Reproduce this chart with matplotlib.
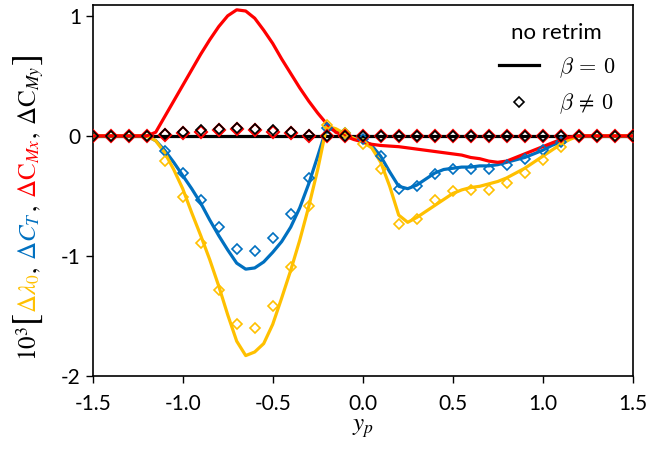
import numpy as np
import matplotlib
matplotlib.use("Agg")
import matplotlib.pyplot as plt
from matplotlib.lines import Line2D

plt.rcParams['font.family'] = ['Lato', 'DejaVu Sans']
plt.rcParams['axes.unicode_minus'] = False

# line data (beta = 0), sampled every 0.05 between -1.2 and 1.2
x_line = [-1.5, -1.2, -1.15, -1.1, -1.05, -1.0, -0.95, -0.9, -0.85, -0.8, -0.75,
          -0.7, -0.65, -0.6, -0.55, -0.5, -0.45, -0.4, -0.35, -0.3, -0.25,
          -0.2, -0.15, -0.1, -0.05, 0.0, 0.05, 0.1, 0.15, 0.2, 0.25, 0.3,
          0.35, 0.4, 0.45, 0.5, 0.55, 0.6, 0.65, 0.7, 0.75, 0.8, 0.85, 0.9,
          0.95, 1.0, 1.05, 1.1, 1.15, 1.2, 1.5]
lam0_line = [0, 0, -0.04, -0.14, -0.28, -0.44, -0.64, -0.83, -1.03, -1.25, -1.49,
             -1.71, -1.83, -1.80, -1.73, -1.57, -1.35, -1.12, -0.87, -0.59, -0.28,
             0.08, 0.06, 0.02, -0.02, -0.05, -0.10, -0.22, -0.42, -0.66, -0.72, -0.68,
             -0.63, -0.58, -0.53, -0.48, -0.45, -0.43, -0.42, -0.40, -0.38, -0.35, -0.31, -0.27,
             -0.22, -0.17, -0.12, -0.07, -0.03, 0, 0]
ct_line = [0, 0, -0.04, -0.12, -0.22, -0.33, -0.44, -0.56, -0.70, -0.83, -0.95,
           -1.06, -1.11, -1.10, -1.05, -0.97, -0.88, -0.76, -0.60, -0.40, -0.17,
           0.07, 0.04, 0.01, -0.02, -0.03, -0.08, -0.17, -0.30, -0.42, -0.44, -0.41,
           -0.36, -0.31, -0.28, -0.27, -0.26, -0.26, -0.25, -0.25, -0.24, -0.22, -0.20, -0.18,
           -0.15, -0.12, -0.08, -0.05, -0.02, 0, 0]
cmx_line = [0, 0, 0.03, 0.16, 0.29, 0.42, 0.55, 0.68, 0.80, 0.91, 1.00,
            1.05, 1.04, 0.98, 0.88, 0.77, 0.64, 0.52, 0.40, 0.29, 0.19,
            0.10, 0.03, 0.0, -0.03, -0.05, -0.07, -0.08, -0.085, -0.09, -0.10, -0.11,
            -0.12, -0.13, -0.14, -0.15, -0.16, -0.18, -0.19, -0.21, -0.22, -0.21, -0.18, -0.15,
            -0.12, -0.09, -0.06, -0.03, -0.01, 0, 0]
cmy_line = [0] * len(x_line)

# marker data (beta != 0), every 0.1
x_pts = [-1.5, -1.4, -1.3, -1.2, -1.1, -1.0, -0.9, -0.8, -0.7, -0.6, -0.5,
         -0.4, -0.3, -0.2, -0.1, 0.0, 0.1, 0.2, 0.3, 0.4, 0.5,
         0.6, 0.7, 0.8, 0.9, 1.0, 1.1, 1.2, 1.3, 1.4, 1.5]
lam0_pts = [0, 0, 0, 0, -0.21, -0.51, -0.89, -1.28, -1.57, -1.60, -1.42,
            -1.09, -0.58, 0.09, 0.02, -0.07, -0.28, -0.73, -0.69, -0.53, -0.46,
            -0.45, -0.45, -0.39, -0.31, -0.20, -0.09, 0, 0, 0, 0]
ct_pts = [0, 0, 0, 0, -0.13, -0.31, -0.53, -0.76, -0.94, -0.96, -0.85,
          -0.65, -0.35, 0.065, 0.02, -0.03, -0.17, -0.44, -0.42, -0.32, -0.28,
          -0.28, -0.28, -0.24, -0.19, -0.12, -0.05, 0, 0, 0, 0]
cmx_pts = [0, 0, 0, 0, 0.01, 0.02, 0.035, 0.045, 0.055, 0.05, 0.035,
           0.02, 0.0, -0.005, -0.005, -0.005, -0.005, -0.005, -0.005, -0.005, -0.005,
           -0.005, -0.005, -0.005, -0.005, -0.005, -0.005, 0, 0, 0, 0]
cmy_pts = [0, 0, 0, 0, 0.017, 0.03, 0.045, 0.055, 0.065, 0.06, 0.045,
           0.03, 0.01, 0.0, 0, 0, 0, 0, 0, 0, 0,
           0, 0, 0, 0, 0, 0, 0, 0, 0, 0]

YELLOW = '#FFC000'
BLUE = '#0070C0'
RED = '#FF0000'

fig = plt.figure(figsize=(6.51, 4.51), dpi=100)
ax = fig.add_axes([0.1424, 0.1663, 0.8295, 0.8226])

ax.plot(x_line, cmy_line, color='black', lw=2.3, zorder=2)
ax.plot(x_line, ct_line, color=BLUE, lw=2.3, zorder=3)
ax.plot(x_line, lam0_line, color=YELLOW, lw=2.3, zorder=3)
ax.plot(x_line, cmx_line, color=RED, lw=2.3, zorder=4)

mk = dict(marker='D', ls='none', fillstyle='none', ms=5.4, mew=1.2)
ax.plot(x_pts, ct_pts, color=BLUE, zorder=5, **mk)
ax.plot(x_pts, lam0_pts, color=YELLOW, zorder=5, **mk)
ax.plot(x_pts, cmx_pts, color=RED, zorder=6, **dict(mk, ms=6.0, mew=1.5))
ax.plot(x_pts, cmy_pts, color='black', zorder=7, **mk)

ax.set_xlim(-1.5, 1.5)
ax.set_ylim(-2, 1.09)
ax.set_xticks([-1.5, -1.0, -0.5, 0.0, 0.5, 1.0, 1.5])
ax.set_xticklabels(['%.1f' % v for v in [-1.5, -1.0, -0.5, 0.0, 0.5, 1.0, 1.5]])
ax.set_yticks([-2, -1, 0, 1])
ax.set_yticklabels(['-2', '-1', '0', '1'])
ax.tick_params(direction='out', length=5, width=1, labelsize=15)
ax.tick_params(axis='x', pad=8)
for s in ax.spines.values():
    s.set_linewidth(1.2)

ax.set_xlabel(r'$y_p$', fontsize=18, math_fontfamily='stix', labelpad=2)

# multi-coloured y label built piece by piece
pieces = [
    (r'$10^3$', 'black', 18, 0),
    (r'$[$', 'black', 26, 0),
    (r'$\Delta\lambda_0$', YELLOW, 18, 0),
    (r'$,$', 'black', 18, 0),
    (r'$\Delta C_T$', BLUE, 18, 5),
    (r'$,$', 'black', 18, 0),
    (r'$\Delta \mathrm{C}_{Mx}$', RED, 18, 5),
    (r'$,$', 'black', 18, 0),
    (r'$\Delta \mathrm{C}_{My}$', 'black', 18, 5),
    (r'$]$', 'black', 26, 0),
]
x_lab = -0.103
prev = None
for txt, col, fs, gap in pieces:
    if prev is None:
        prev = ax.annotate(txt, xy=(x_lab, 0.04), xycoords='axes fraction',
                           rotation=90, rotation_mode='anchor', ha='left',
                           va='baseline', color=col, fontsize=fs,
                           math_fontfamily='stix', annotation_clip=False)
    else:
        prev = ax.annotate(txt, xy=(x_lab, 1.0), xycoords=('axes fraction', prev),
                           xytext=(0, gap), textcoords='offset points',
                           rotation=90, rotation_mode='anchor', ha='left',
                           va='baseline', color=col, fontsize=fs,
                           math_fontfamily='stix', annotation_clip=False)

handles = [Line2D([], [], color='black', lw=2.3),
           Line2D([], [], color='black', marker='D', ls='none', fillstyle='none', ms=5.4, mew=1.2)]
leg = ax.legend(handles, [r'$\beta\,=\,0$', r'$\beta\,\neq\,0$'], title='no retrim',
                loc='upper right', frameon=False, fontsize=16, title_fontsize=16,
                handlelength=1.8, handletextpad=0.9, borderaxespad=0.4,
                labelspacing=0.55)
for t in leg.get_texts():
    t.set_math_fontfamily('cm')

fig.savefig('out.png', dpi=100)
